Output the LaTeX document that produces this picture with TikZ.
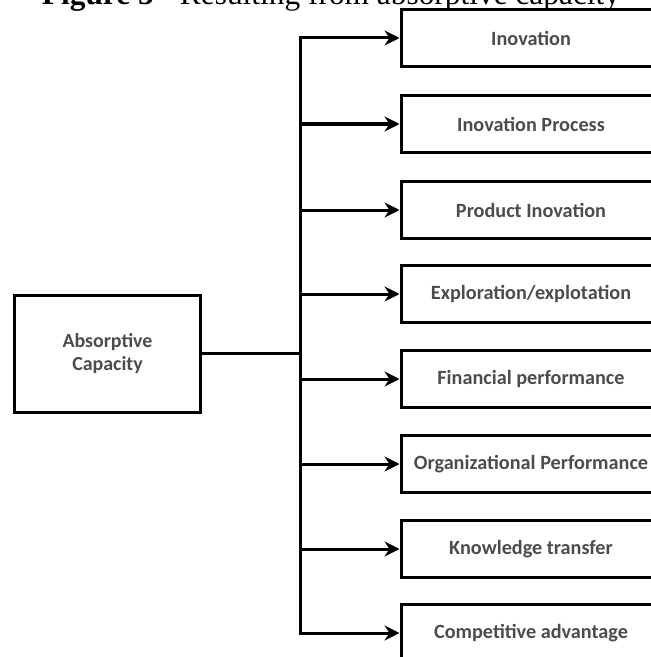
\documentclass[tikz,border=0pt]{standalone}
\usepackage{fontspec}
\setmainfont{Liberation Serif}
\newfontfamily\boxfont{Carlito}
\usetikzlibrary{arrows.meta}
\definecolor{txtgray}{gray}{0.3}
\tikzset{
  outbox/.style={draw=black, line width=3bp, minimum width=260bp, minimum height=57bp, inner sep=0pt, font=\boxfont\bfseries\fontsize{20.3}{22}\selectfont, text=txtgray},
  inbox/.style={draw=black, line width=3bp, minimum width=185bp, minimum height=117bp, inner sep=0pt, align=center, font=\boxfont\bfseries\fontsize{20}{23}\selectfont, text=txtgray},
  conn/.style={line width=3bp, draw=black},
  arr/.style={conn, -{Stealth[length=15bp, width=15bp, inset=5bp]}},
}
\begin{document}
\begin{tikzpicture}[x=1bp, y=-1bp]
\useasboundingbox (0,0) rectangle (651,657);
\node[anchor=base, inner sep=0pt] (title) at (331,5) {\resizebox{578bp}{!}{\textbf{Figure 5} - Resulting from absorptive capacity}};
\node[inbox] (src) at (107.5,353.5) {Absorptive\\Capacity};
\node[outbox] (b1) at (531,38) {Inovation};
\node[outbox] (b2) at (531,124) {Inovation Process};
\node[outbox] (b3) at (531,210) {Product Inovation};
\node[outbox] (b4) at (531,294) {Exploration/explotation};
\node[outbox] (b5) at (531,379) {Financial performance};
\node[outbox] (b6) at (531,464) {Organizational Performance};
\node[outbox] (b7) at (531,549) {Knowledge transfer};
\node[outbox] (b8) at (531,633) {Competitive advantage};
\coordinate (j) at (300,353.5);
\coordinate (top) at (300,38);
\coordinate (bot) at (300,633);
\draw[conn] (src.east) -- (j);
\draw[conn, line cap=rect] (top) -- (bot);
\foreach \i in {1,...,8}{
  \draw[arr] (top |- b\i.west) -- (b\i.west);
}
\end{tikzpicture}
\end{document}
